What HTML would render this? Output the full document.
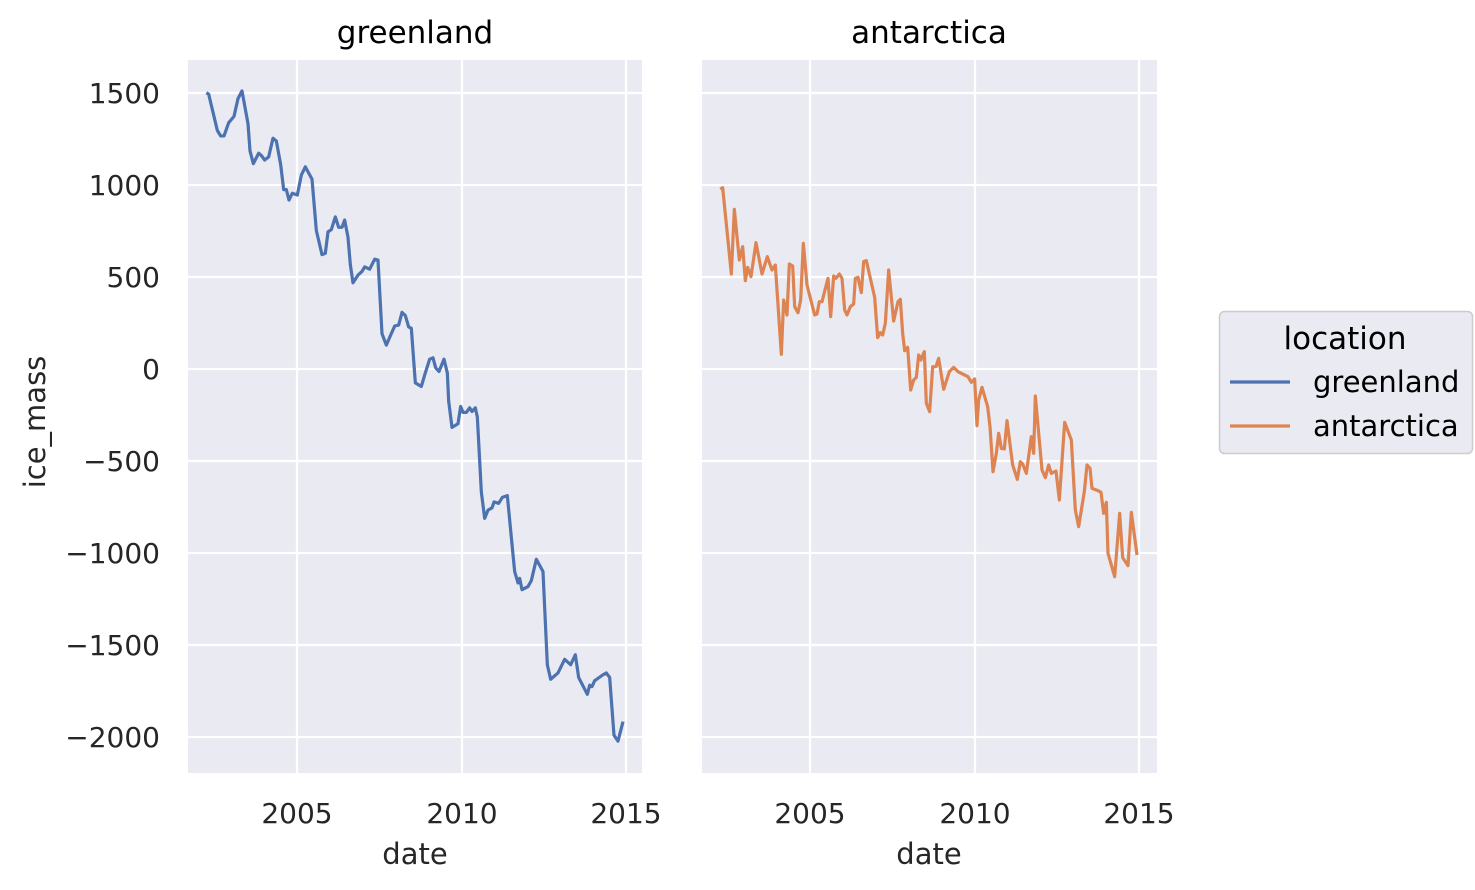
<!DOCTYPE html>
<html><head><meta charset="utf-8"><style>
html,body{margin:0;padding:0;background:#fff}
svg{display:block}
text{font-family:"DejaVu Sans","Liberation Sans",sans-serif;fill:#262626}
</style></head><body>
<svg width="1475" height="890" viewBox="0 0 1475 890" xmlns="http://www.w3.org/2000/svg">
<rect x="188" y="60" width="454" height="713" fill="#eaeaf2"/>
<rect x="702" y="60" width="455" height="713" fill="#eaeaf2"/>
<g stroke="#fff" stroke-width="2.2">
<line x1="297" y1="60" x2="297" y2="773"/><line x1="462" y1="60" x2="462" y2="773"/><line x1="626" y1="60" x2="626" y2="773"/>
<line x1="810" y1="60" x2="810" y2="773"/><line x1="975" y1="60" x2="975" y2="773"/><line x1="1139" y1="60" x2="1139" y2="773"/>
<line x1="188" y1="93" x2="642" y2="93"/><line x1="188" y1="185" x2="642" y2="185"/><line x1="188" y1="277" x2="642" y2="277"/><line x1="188" y1="369" x2="642" y2="369"/><line x1="188" y1="461" x2="642" y2="461"/><line x1="188" y1="553" x2="642" y2="553"/><line x1="188" y1="645" x2="642" y2="645"/><line x1="188" y1="737" x2="642" y2="737"/>
<line x1="702" y1="93" x2="1157" y2="93"/><line x1="702" y1="185" x2="1157" y2="185"/><line x1="702" y1="277" x2="1157" y2="277"/><line x1="702" y1="369" x2="1157" y2="369"/><line x1="702" y1="461" x2="1157" y2="461"/><line x1="702" y1="553" x2="1157" y2="553"/><line x1="702" y1="645" x2="1157" y2="645"/><line x1="702" y1="737" x2="1157" y2="737"/>
</g>
<g transform="translate(188,60) scale(0.33333,0.4547)">
<polyline fill="none" stroke="#4c72b0" stroke-width="3.2" vector-effect="non-scaling-stroke" stroke-linejoin="round" points="55,72 62,75 88,155 98,167 108,167 122,138 138,124 150,85 162,68 180,140 186,200 196,228 212,205 220,210 230,220 242,213 255,172 265,178 278,230 287,285 295,285 303,308 313,293 328,297 340,253 352,235 372,262 385,375 402,428 412,425 420,378 430,373 442,345 452,368 462,368 470,352 480,390 487,450 495,490 510,473 522,465 530,455 545,460 560,438 570,440 582,602 595,627 605,610 620,585 632,583 642,555 652,562 662,587 670,590 682,710 700,718 712,688 725,658 735,655 743,677 753,685 768,658 778,688 782,750 792,808 810,800 818,762 825,775 835,775 845,765 852,773 862,765 868,785 880,950 890,1008 900,990 912,985 918,972 932,975 943,962 958,958 970,1050 980,1125 990,1150 995,1140 1002,1165 1020,1158 1030,1145 1045,1098 1065,1125 1078,1330 1088,1362 1110,1348 1130,1318 1148,1330 1162,1308 1172,1358 1198,1395 1205,1375 1212,1378 1220,1365 1245,1352 1255,1348 1265,1358 1278,1485 1290,1498 1305,1455"/>
</g>
<g transform="translate(702,160) scale(0.33333)">
<polyline fill="none" stroke="#dd8452" stroke-width="3.2" vector-effect="non-scaling-stroke" stroke-linejoin="round" points="55,88 62,83 88,342 97,148 112,300 122,260 130,362 137,322 147,350 162,248 180,342 196,290 210,330 220,315 238,583 245,420 255,465 262,312 272,318 278,440 288,458 296,420 304,250 315,375 338,465 345,462 352,425 360,425 378,355 386,470 395,348 402,355 412,342 420,355 428,450 435,465 445,440 455,432 460,355 468,352 478,398 485,305 493,302 518,412 527,533 535,518 542,525 550,490 560,330 575,483 588,425 595,418 602,520 608,572 617,562 626,690 635,660 643,652 650,585 657,600 660,590 667,575 673,730 683,755 692,620 702,620 710,595 725,688 742,635 755,622 768,635 798,650 808,667 818,657 825,797 830,720 840,682 857,740 864,800 873,935 883,880 890,820 898,865 907,867 915,782 932,915 946,958 955,905 962,912 973,940 988,830 995,880 1000,708 1020,930 1030,953 1040,915 1048,940 1062,933 1072,1020 1088,787 1108,840 1120,1050 1130,1100 1147,995 1155,915 1164,925 1170,985 1188,992 1197,997 1205,1060 1213,1027 1218,1180 1228,1215 1238,1250 1253,1060 1262,1193 1278,1217 1288,1057 1305,1185"/>
</g>
<g font-size="28" text-anchor="end">
<text x="160" y="103">1500</text><text x="160" y="195">1000</text><text x="160" y="287">500</text><text x="160" y="379">0</text><text x="160" y="471">−500</text><text x="160" y="563">−1000</text><text x="160" y="655">−1500</text><text x="160" y="747">−2000</text>
</g>
<g font-size="28" text-anchor="middle">
<text x="297" y="823">2005</text><text x="462" y="823">2010</text><text x="626" y="823">2015</text>
<text x="810" y="823">2005</text><text x="975" y="823">2010</text><text x="1139" y="823">2015</text>
<text x="415" y="864" font-size="29">date</text><text x="929" y="864" font-size="29">date</text>
<text x="415" y="43" font-size="31" style="fill:#000">greenland</text><text x="929" y="43" font-size="31" style="fill:#000">antarctica</text>
<text x="0" y="0" font-size="29" transform="translate(45,422) rotate(-90)">ice_mass</text>
</g>
<rect x="1219.5" y="311.5" width="253" height="142" rx="5" fill="#eaeaf2" stroke="#cccccc" stroke-width="1.5"/>
<text x="1345" y="349" font-size="31" text-anchor="middle" style="fill:#000">location</text>
<line x1="1230" y1="382" x2="1290" y2="382" stroke="#4c72b0" stroke-width="3.2"/>
<line x1="1230" y1="426" x2="1290" y2="426" stroke="#dd8452" stroke-width="3.2"/>
<text x="1313" y="392" font-size="29" style="fill:#000">greenland</text>
<text x="1313" y="436" font-size="29" style="fill:#000">antarctica</text>
</svg>
</body></html>
